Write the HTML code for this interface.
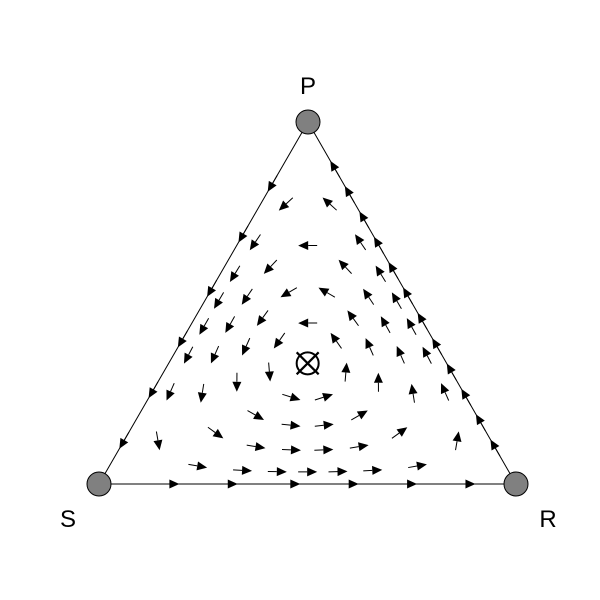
<!DOCTYPE html>
<html><head><meta charset="utf-8"><style>
html,body{margin:0;padding:0;background:#fff}
svg{display:block}
text{font-family:"Liberation Sans",sans-serif;font-size:24px}
</style></head><body>
<svg id="chart" width="600" height="600" viewBox="0 0 600 600">
<g id="edges"></g>
<g id="arrows"></g>
<g id="nodes"></g>
</svg>
<script>
// Strategy labels and vertex layout
const strategies = ["R", "P", "S"];
// payoff matrix rows/cols R,P,S (rock-paper-scissors)
const payoff = [[0,-1,1],[1,0,-1],[-1,1,0]];
// ring levels (fraction from centroid toward edge midpoint) and arrows per ring
const ringLevels = [0.3, 0.52, 0.72, 0.9];
const ringCounts = [7, 12, 17, 23];
// arrow fractions along each edge
const edgeBottom = [0.17, 0.31, 0.46, 0.60, 0.74, 0.88];      // S -> R
const edgeRight  = [0.10,0.17,0.24,0.31,0.38,0.45,0.52,0.59,0.66,0.73,0.80,0.87]; // R -> P
const edgeLeft   = [0.17, 0.31, 0.46, 0.60, 0.74, 0.88];      // P -> S

const V = {R:[516,484], P:[308,122], S:[99,484]};
const NS = "http://www.w3.org/2000/svg";
function mk(tag, attrs, parent){const e=document.createElementNS(NS,tag);for(const k in attrs)e.setAttribute(k,attrs[k]);parent.appendChild(e);return e;}
function toXY(b){return [b[0]*V.R[0]+b[1]*V.P[0]+b[2]*V.S[0], b[0]*V.R[1]+b[1]*V.P[1]+b[2]*V.S[1]];}
function vel(b){
  const f=[0,1,2].map(i=>payoff[i][0]*b[0]+payoff[i][1]*b[1]+payoff[i][2]*b[2]);
  const avg=b[0]*f[0]+b[1]*f[1]+b[2]*f[2];
  const d=b.map((x,i)=>x*(f[i]-avg));
  return [d[0]*V.R[0]+d[1]*V.P[0]+d[2]*V.S[0], d[0]*V.R[1]+d[1]*V.P[1]+d[2]*V.S[1]];
}
const arrowsG=document.getElementById('arrows');
function arrow(b,name){
  const [x,y]=toXY(b); let [dx,dy]=vel(b); const n=Math.hypot(dx,dy)||1; dx/=n; dy/=n;
  const L=19, H=10, W=4.5;
  const tx=x-dx*L/2, ty=y-dy*L/2, hx=x+dx*L/2, hy=y+dy*L/2;
  const bx=hx-dx*H, by=hy-dy*H;
  const g=mk('g',{},arrowsG);
  
  
  mk('line',{x1:tx,y1:ty,x2:bx,y2:by,stroke:'#000','stroke-width':1},g);
  mk('polygon',{points:`${hx},${hy} ${bx-dy*W},${by+dx*W} ${bx+dy*W},${by-dx*W}`,fill:'#000'},g);
}
const eg=document.getElementById('edges');
mk('polygon',{points:`${V.R} ${V.P} ${V.S}`,fill:'none',stroke:'#000','stroke-width':1},eg);
const C=[1/3,1/3,1/3], Cxy=toXY(C);
function prod(b){return b[0]*b[1]*b[2];}
function xyToB(x,y){
  const [x1,y1]=V.R,[x2,y2]=V.P,[x3,y3]=V.S;
  const det=(y2-y3)*(x1-x3)+(x3-x2)*(y1-y3);
  const a=((y2-y3)*(x-x3)+(x3-x2)*(y-y3))/det;
  const b=((y3-y1)*(x-x3)+(x1-x3)*(y-y3))/det;
  return [a,b,1-a-b];
}
ringLevels.forEach((s,ri)=>{
  const c=prod([1/3+s/6,1/3-s/3,1/3+s/6]);
  const n=ringCounts[ri];
  for(let k=0;k<n;k++){
    const th=-Math.PI/2+(k+0.5*(ri%2))*2*Math.PI/n;
    let lo=0,hi=400;
    for(let it=0;it<50;it++){const m=(lo+hi)/2;const b=xyToB(Cxy[0]+m*Math.cos(th),Cxy[1]+m*Math.sin(th));
      if(Math.min(...b)<=0||prod(b)<c)hi=m;else lo=m;}
    arrow(xyToB(Cxy[0]+lo*Math.cos(th),Cxy[1]+lo*Math.sin(th)),'flow-arrow');
  }
});
edgeBottom.forEach(t=>arrow([t,0,1-t],'edge-arrow-s-r'));
edgeRight.forEach(t=>arrow([1-t,t,0],'edge-arrow-r-p'));
edgeLeft.forEach(t=>arrow([0,1-t,t],'edge-arrow-p-s'));
const ng=document.getElementById('nodes');
const labelPos={R:[548,527],P:[308,94],S:[68,527]};
strategies.forEach(k=>{
  const c=mk('circle',{cx:V[k][0],cy:V[k][1],r:12,fill:'#808080',stroke:'#000','stroke-width':1},ng);
  
  
  const t=mk('text',{x:labelPos[k][0],y:labelPos[k][1],'text-anchor':'middle'},ng);
  t.textContent=k;
  
  
});
const eq=mk('g',{},ng);


mk('circle',{cx:Cxy[0],cy:Cxy[1],r:11,fill:'#fff',stroke:'#000','stroke-width':2},eq);
mk('line',{x1:Cxy[0]-11,y1:Cxy[1]-11,x2:Cxy[0]+11,y2:Cxy[1]+11,stroke:'#000','stroke-width':2.2},eq);
mk('line',{x1:Cxy[0]-11,y1:Cxy[1]+11,x2:Cxy[0]+11,y2:Cxy[1]-11,stroke:'#000','stroke-width':2.2},eq);
</script>
</body></html>
